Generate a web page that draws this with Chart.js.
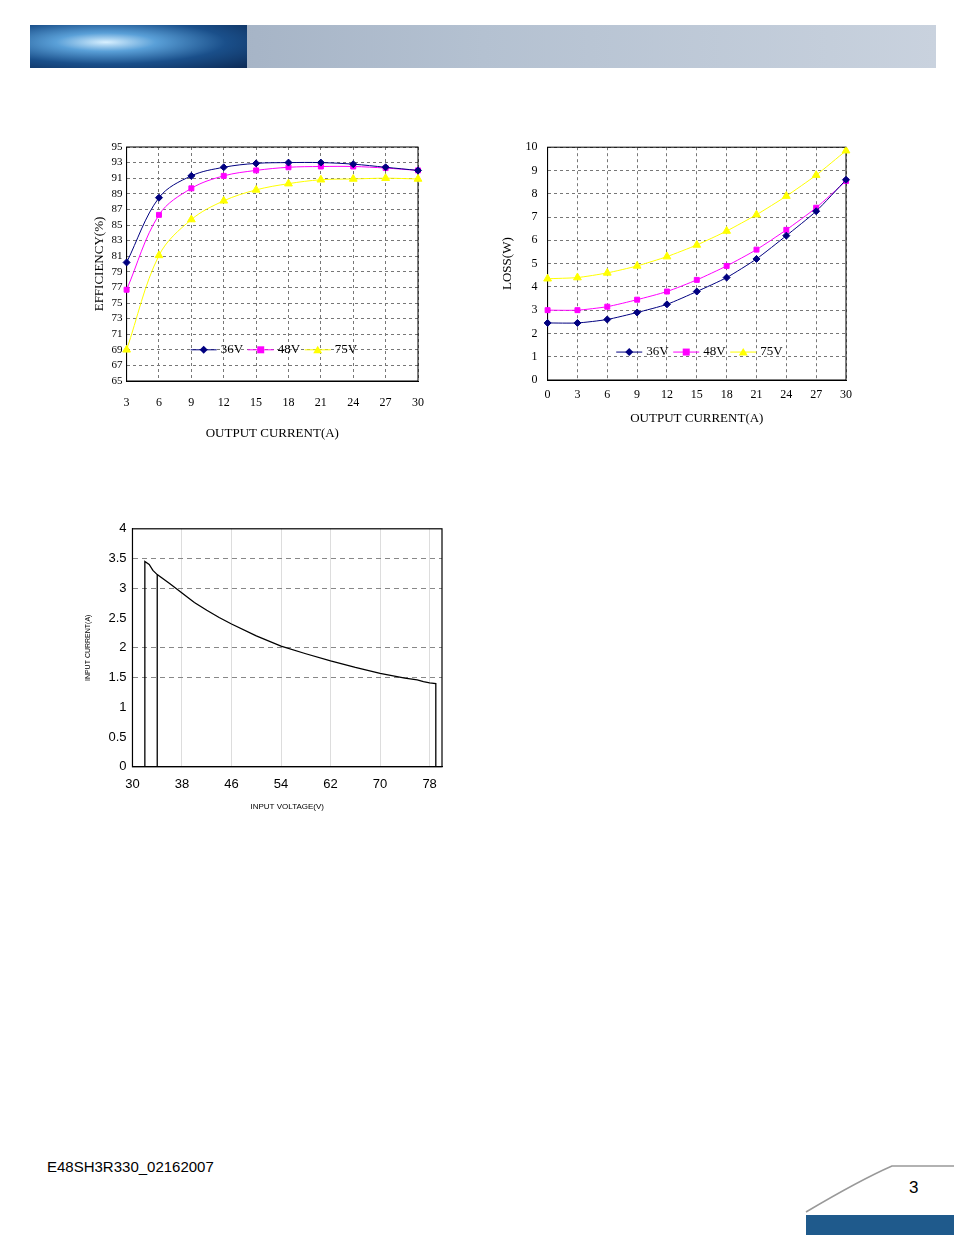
<!DOCTYPE html>
<html><head><meta charset="utf-8">
<script src="https://cdn.jsdelivr.net/npm/chart.js@4/dist/chart.umd.min.js"></script>
<style>
body{margin:0;width:954px;height:1235px;position:relative;background:#fff;overflow:hidden;font-family:"Liberation Sans",Arial,sans-serif}
canvas{position:absolute}
#hdr{position:absolute;left:30px;top:25px;width:906px;height:43px;background:linear-gradient(90deg,#9aa9bd,#b4c1d1 50%,#c9d2de)}
#hdrL{position:absolute;left:30px;top:25px;width:217px;height:43px;background:radial-gradient(ellipse at 35% 40%,#d8f0ff 0%,#5aa0d8 25%,#1a4f8a 60%,#0c2a55 100%)}
#foot{position:absolute;left:47px;top:1158px;font-size:15px;color:#000}
#pg{position:absolute;left:909px;top:1178px;font-size:17px}
#bar{position:absolute;left:806px;top:1215px;width:148px;height:20px;background:#1f5a8c}
</style></head><body>
<div id="hdr"></div><div id="hdrL"></div>
<div id="foot">E48SH3R330_02162007</div>
<div id="pg">3</div>
<svg style="position:absolute;left:800px;top:1160px" width="154" height="60"><path d="M6 52 Q60 20 92 6 L154 6" stroke="#999" fill="none" stroke-width="1.5"/></svg>
<div id="bar"></div>
<canvas id="c1" width="359" height="310" style="left:80px;top:135px"></canvas>
<canvas id="c2" width="360" height="300" style="left:500px;top:130px"></canvas>
<canvas id="c3" width="370" height="301" style="left:80px;top:515px"></canvas>
<script>
const effX=["3","6","9","12","15","18","21","24","27","30"];
const eff36=[80.2,88.5,91.3,92.4,92.9,93.0,93.0,92.8,92.4,92.0];
const eff48=[76.7,86.3,89.7,91.3,92.0,92.4,92.5,92.5,92.3,92.0];
const eff75=[69.0,81.1,85.7,88.1,89.5,90.3,90.8,90.9,91.0,90.9];
const lossX=["0","3","6","9","12","15","18","21","24","27","30"];
const loss36=[2.45,2.45,2.6,2.9,3.25,3.8,4.4,5.2,6.2,7.25,8.6];
const loss48=[3.0,3.0,3.15,3.45,3.8,4.3,4.9,5.6,6.45,7.4,8.55];
const loss75=[4.35,4.4,4.6,4.9,5.3,5.8,6.4,7.1,7.9,8.8,9.85];
const vinX=[32,32,32.7,33.3,34,36,38,40,42,44,46,50,54,58,62,66,70,74,76,77,78,79,79];
const vinY=[0,3.45,3.4,3.3,3.23,3.08,2.92,2.76,2.63,2.51,2.40,2.2,2.03,1.9,1.78,1.67,1.57,1.49,1.46,1.43,1.41,1.40,0];
const uvloX=[34,34];const uvloY=[0,3.23];

const serif="'Liberation Serif','DejaVu Serif',serif";
const cols=['#000080','#ff00ff','#ffff00'];
const shapes=['rectRot','rect','triangle'];
const names=['36V','48V','75V'];
function mkLegend(id,xFrac,yVal){return {id:'lg'+id,afterDraw(ch){const c=ch.ctx,a=ch.chartArea;const y=ch.scales.y.getPixelForValue(yVal);let x=a.left+a.width*xFrac;c.save();c.font='13px '+serif;c.textBaseline='middle';
for(let i=0;i<3;i++){c.strokeStyle=cols[i];c.lineWidth=1;c.beginPath();c.moveTo(x,y);c.lineTo(x+26,y);c.stroke();c.fillStyle=cols[i];
const cx=x+13;c.beginPath();if(i==0){c.moveTo(cx,y-4);c.lineTo(cx+4,y);c.lineTo(cx,y+4);c.lineTo(cx-4,y);}else if(i==1){c.rect(cx-3.5,y-3.5,7,7);}else{c.moveTo(cx,y-4);c.lineTo(cx+4.5,y+3.5);c.lineTo(cx-4.5,y+3.5);}c.fill();
c.fillStyle='#000';c.fillText(names[i],x+30,y);x+=57;}c.restore();}};}
function ds(d,i,t){return {label:names[i],data:d,borderColor:cols[i],backgroundColor:cols[i],pointStyle:shapes[i],pointRadius:i==2?4.5:3.5,borderWidth:1,tension:t};}
const grid={color:'#777',lineWidth:1,tickLength:0,drawTicks:false};
function serifScale(extra){return Object.assign({border:{display:true,color:'#000',width:1,dash:[3,3]},grid:Object.assign({},grid)},extra);}
const box={id:'bd',beforeDatasetsDraw(ch){const c=ch.ctx,a=ch.chartArea;c.save();c.strokeStyle='#000';c.setLineDash([]);c.strokeRect(a.left,a.top,a.width,a.height);c.restore();}};

new Chart('c1',{type:'line',data:{labels:effX,datasets:[ds(eff36,0,0.35),ds(eff48,1,0.35),ds(eff75,2,0.35)]},
options:{responsive:false,animation:false,layout:{padding:{right:2,top:12,left:12}},plugins:{legend:{display:false},tooltip:{enabled:false}},
scales:{x:serifScale({offset:false,title:{display:true,text:'OUTPUT CURRENT(A)',font:{family:serif,size:13},color:'#000',padding:{top:0}},ticks:{color:'#000',font:{family:serif,size:12},padding:15}}),
y:serifScale({min:65,max:95,ticks:{stepSize:2,autoSkip:false,color:'#000',font:{family:serif,size:11},padding:4},title:{display:true,text:'EFFICIENCY(%)',font:{family:serif,size:13},color:'#000',padding:0}})}},
plugins:[mkLegend(1,0.22,69),box]});

new Chart('c2',{type:'line',data:{labels:lossX,datasets:[ds(loss36,0,0.2),ds(loss48,1,0.2),ds(loss75,2,0.2)]},
options:{responsive:false,animation:false,layout:{padding:{right:14,top:3}},plugins:{legend:{display:false},tooltip:{enabled:false}},
scales:{x:serifScale({offset:false,title:{display:true,text:'OUTPUT CURRENT(A)',font:{family:serif,size:13},color:'#000',padding:{top:0}},ticks:{color:'#000',font:{family:serif,size:12},padding:8}}),
y:serifScale({min:0,max:10,ticks:{stepSize:1,autoSkip:false,color:'#000',font:{family:serif,size:12},padding:10},title:{display:true,text:'LOSS(W)',font:{family:serif,size:13},color:'#000',padding:0}})}},
plugins:[mkLegend(2,0.23,1.2),box]});

const hLines=[1.5,2,3,3.5];
new Chart('c3',{type:'scatter',data:{datasets:[
{data:vinX.map((x,i)=>({x,y:vinY[i]})),showLine:true,borderColor:'#000',borderWidth:1.3,pointRadius:0,tension:0},
{data:uvloX.map((x,i)=>({x,y:uvloY[i]})),showLine:true,borderColor:'#000',borderWidth:1.3,pointRadius:0}]},
options:{responsive:false,animation:false,layout:{padding:{right:8,top:4}},plugins:{legend:{display:false},tooltip:{enabled:false}},
scales:{x:{type:'linear',min:30,max:80,afterBuildTicks(s){s.ticks=[30,38,46,54,62,70,78].map(v=>({value:v}));},border:{color:'#000'},
grid:{color:c=>c.tick&&c.tick.value>30?'#ddd':'rgba(0,0,0,0)',tickLength:0},ticks:{color:'#000',font:{family:"'Liberation Sans'",size:13},padding:10},
title:{display:true,text:'INPUT VOLTAGE(V)',font:{family:"'Liberation Sans'",size:8},color:'#000',padding:{top:0}}},
y:{min:0,max:4,grid:{color:c=>hLines.includes(c.tick.value)?'#888':'rgba(0,0,0,0)',tickLength:0},border:{dash:[5,4],color:'#000'},
ticks:{stepSize:0.5,callback:v=>String(v),color:'#000',font:{family:"'Liberation Sans'",size:13},padding:6},
title:{display:true,text:'INPUT CURRENT(A)',font:{family:"'Liberation Sans'",size:7},color:'#000',padding:{bottom:10}}}}},
plugins:[{id:'bd3',beforeDatasetsDraw(ch){const c=ch.ctx,a=ch.chartArea;c.save();c.strokeStyle='#000';c.setLineDash([]);c.lineWidth=1.2;c.strokeRect(a.left,a.top,a.width,a.height);c.restore();}}]});
</script></body></html>
